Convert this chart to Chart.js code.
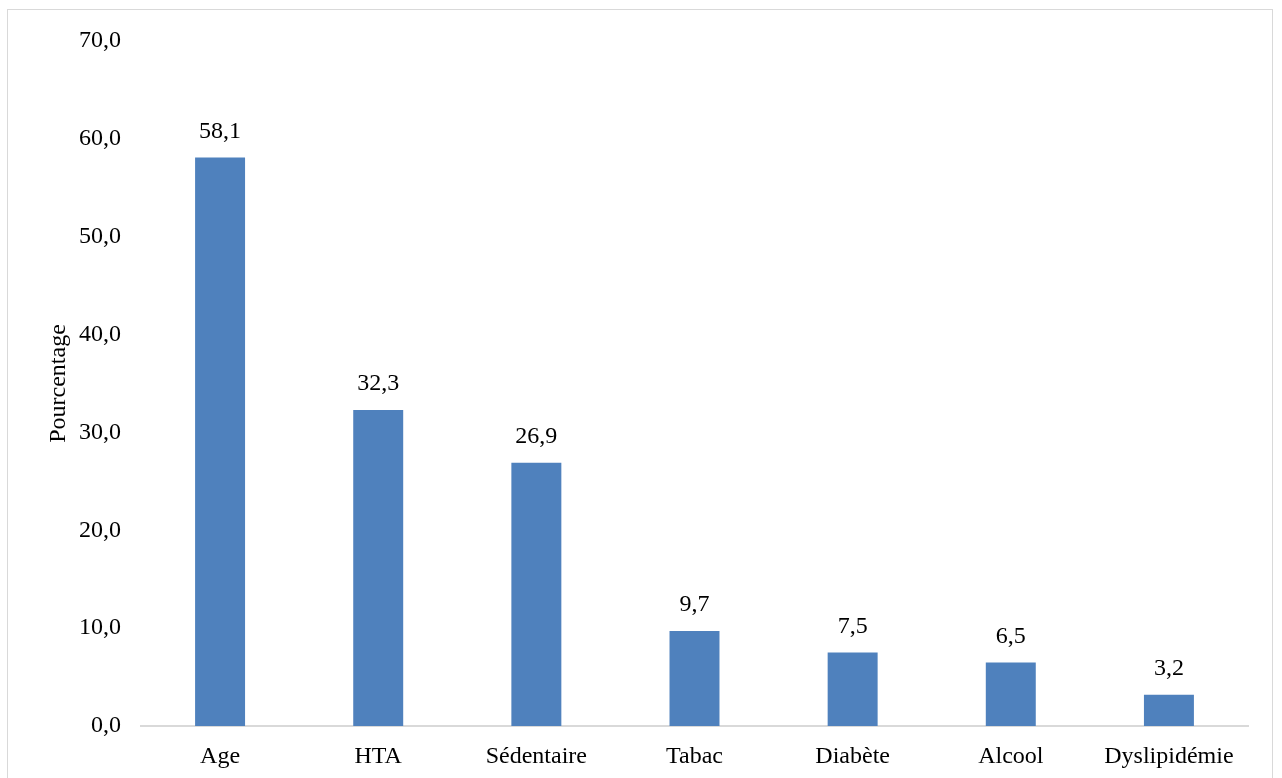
<!DOCTYPE html>
<html>
<head>
<meta charset="utf-8">
<script src="https://cdn.jsdelivr.net/npm/chart.js@4.4.1/dist/chart.umd.min.js"></script>
<style>
	html, body { margin: 0; padding: 0; background: #fff; }
	#frame {
		position: absolute; left: 7px; top: 9px;
		width: 1266px; height: 800px;
		border: 1px solid #d9d9d9; box-sizing: border-box;
	}
	#wrap { position: absolute; left: 0; top: 0; width: 1282px; height: 778px; }
</style>
</head>
<body>
<div id="frame"></div>
<div id="wrap"><canvas id="chart" width="1282" height="778"></canvas></div>
<script>
const categories = ["Age", "HTA", "Sédentaire", "Tabac", "Diabète", "Alcool", "Dyslipidémie"];
const percentages = [58.1, 32.3, 26.9, 9.7, 7.5, 6.5, 3.2];
const yTicks = [0, 10, 20, 30, 40, 50, 60, 70];

const fmt = v => v.toFixed(1).replace(".", ",");
const serif = "'Liberation Serif', 'Times New Roman', serif";

// étiquettes de valeurs au-dessus des barres
const valueLabels = {
	id: "valueLabels",
	afterDatasetsDraw(chart) {
		const ctx = chart.ctx;
		const meta = chart.getDatasetMeta(0);
		ctx.save();
		ctx.font = `24px ${serif}`;
		ctx.fillStyle = "#000";
		ctx.textAlign = "center";
		ctx.textBaseline = "middle";
		meta.data.forEach((bar, i) => {
			ctx.fillText(fmt(percentages[i]), bar.x, bar.y - 26);
		});
		ctx.restore();
	},
};

new Chart(document.getElementById("chart"), {
	type: "bar",
	data: {
		labels: categories,
		datasets: [
			{
				data: percentages,
				backgroundColor: "#4F81BD",
				barPercentage: 0.316,
				categoryPercentage: 1,
			},
		],
	},
	options: {
		responsive: false,
		animation: false,
		layout: { padding: { left: 0, top: 41, right: 34, bottom: 0 } },
		plugins: { legend: { display: false }, tooltip: { enabled: false } },
		scales: {
			x: {
				grid: { display: false, drawTicks: false },
				border: { display: true, color: "#d9d9d9", width: 2 },
				ticks: { color: "#000", font: { family: serif, size: 24 }, padding: 16, maxRotation: 0 },
				afterFit: scale => { scale.height = 52; },
			},
			y: {
				min: 0,
				max: 70,
				afterBuildTicks: scale => { scale.ticks = yTicks.map(v => ({ value: v })); },
				grid: { display: false, drawTicks: false },
				border: { display: false },
				ticks: { color: "#000", font: { family: serif, size: 24 }, padding: 20, callback: v => fmt(v) },
				title: {
					display: true,
					text: "Pourcentage",
					color: "#000",
					font: { family: serif, size: 24 },
					padding: { top: 44, bottom: 0 },
				},
				afterFit: scale => { scale.width = 141; },
			},
		},
	},
	plugins: [valueLabels],
});
</script>
</body>
</html>
